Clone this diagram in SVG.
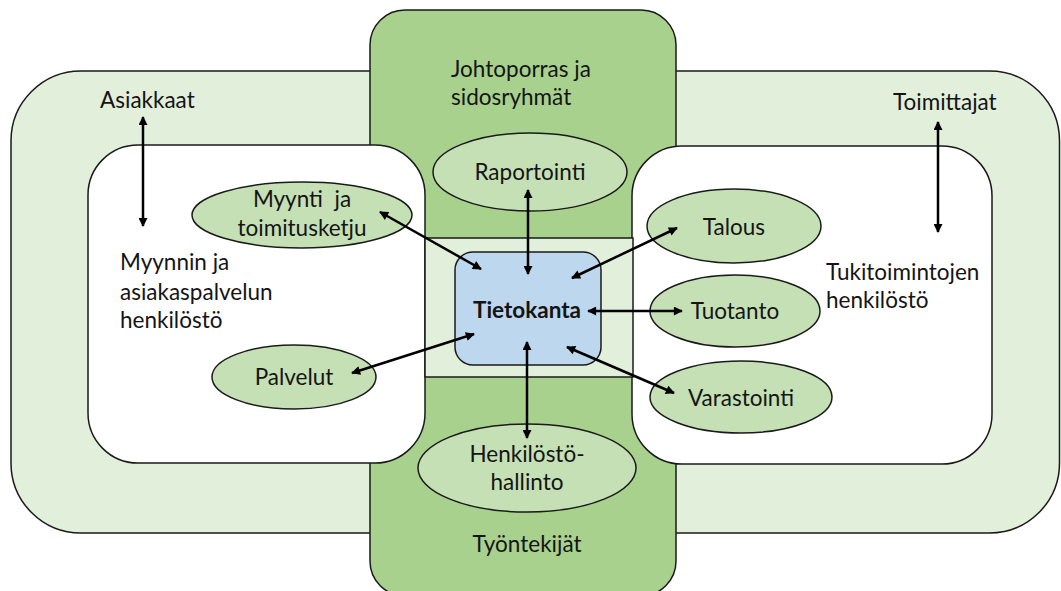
<svg xmlns="http://www.w3.org/2000/svg" width="1061" height="591" viewBox="0 0 1061 591">
  <style>
    .ln { stroke: #1a1a1a; stroke-width: 1.5; }
    .outer { fill: #e2efda; }
    .col { fill: #a9d18e; }
    .inner { fill: #ffffff; }
    .core { fill: #e2efda; }
    .db { fill: #bdd7ee; }
    .oval { fill: #c5e0b4; }
    text { font-family: Lato, "Open Sans", "Liberation Sans", sans-serif; font-size: 22.5px; fill: #141414; }
    .c { text-anchor: middle; }
    .b { font-weight: bold; font-size: 22.5px; }
    .arr { stroke: #000; stroke-width: 2.5; fill: none; marker-start: url(#ah); marker-end: url(#ah); }
  </style>
  <defs>
    <marker id="ah" viewBox="0 0 10 10" refX="9" refY="5" markerWidth="11" markerHeight="9" markerUnits="userSpaceOnUse" orient="auto-start-reverse">
      <path d="M0,0 L10,5 L0,10 z" fill="#000"/>
    </marker>
  </defs>

  <!-- background layers -->
  <g id="asiakkaat-toimittajat">
    <rect class="outer ln" x="11" y="71" width="1048.5" height="462" rx="70"/>
    <text x="100" y="108">Asiakkaat</text>
    <text x="893" y="110">Toimittajat</text>
  </g>
  <g id="johto-tyontekijat">
    <rect class="col ln" x="370" y="10" width="306" height="586" rx="35"/>
    <text x="451" y="77">Johtoporras ja</text>
    <text x="451" y="105">sidosryhmät</text>
    <text class="c" x="527" y="552">Työntekijät</text>
  </g>
  <g id="myynti-henkilosto">
    <rect class="inner ln" x="88" y="145" width="337" height="318" rx="50"/>
    <text x="120" y="270">Myynnin ja</text>
    <text x="120" y="300">asiakaspalvelun</text>
    <text x="120" y="328">henkilöstö</text>
  </g>
  <g id="tuki-henkilosto">
    <rect class="inner ln" x="632" y="146" width="360" height="318" rx="50"/>
    <text x="826" y="280">Tukitoimintojen</text>
    <text x="826" y="308">henkilöstö</text>
  </g>
  <g id="ydin">
    <rect class="core ln" x="425" y="238" width="208" height="139"/>
  </g>
  <g id="tietokanta">
    <rect class="db ln" x="455" y="252" width="146" height="113" rx="18"/>
    <text class="c b" x="527" y="318">Tietokanta</text>
  </g>

  <!-- functions -->
  <g id="raportointi">
    <ellipse class="oval ln" cx="530" cy="172" rx="97" ry="39"/>
    <text class="c" x="530" y="180">Raportointi</text>
  </g>
  <g id="myynti-toimitusketju">
    <ellipse class="oval ln" cx="302" cy="215" rx="110" ry="33"/>
    <text class="c" x="302" y="207" xml:space="preserve">Myynti  ja</text>
    <text class="c" x="302" y="236">toimitusketju</text>
  </g>
  <g id="palvelut">
    <ellipse class="oval ln" cx="294" cy="377" rx="82" ry="32"/>
    <text class="c" x="294" y="385">Palvelut</text>
  </g>
  <g id="henkilostohallinto">
    <ellipse class="oval ln" cx="527" cy="468" rx="109" ry="44"/>
    <text class="c" x="527" y="462">Henkilöstö-</text>
    <text class="c" x="527" y="490">hallinto</text>
  </g>
  <g id="talous">
    <ellipse class="oval ln" cx="734" cy="226" rx="87" ry="37"/>
    <text class="c" x="734" y="235">Talous</text>
  </g>
  <g id="tuotanto">
    <ellipse class="oval ln" cx="735" cy="311" rx="85" ry="36"/>
    <text class="c" x="735" y="319">Tuotanto</text>
  </g>
  <g id="varastointi">
    <ellipse class="oval ln" cx="741" cy="397" rx="91" ry="36"/>
    <text class="c" x="741" y="406">Varastointi</text>
  </g>

  <!-- connectors -->
  <g id="connectors">
    <line class="arr" x1="143" y1="117" x2="143" y2="226"/>
    <line class="arr" x1="938" y1="122" x2="938" y2="232"/>
    <line class="arr" x1="380" y1="212" x2="481" y2="269"/>
    <line class="arr" x1="528" y1="190" x2="528" y2="274"/>
    <line class="arr" x1="572" y1="278" x2="677" y2="228"/>
    <line class="arr" x1="588" y1="311" x2="682" y2="311"/>
    <line class="arr" x1="352" y1="373" x2="474" y2="334"/>
    <line class="arr" x1="567" y1="347" x2="674" y2="393"/>
    <line class="arr" x1="527" y1="342" x2="527" y2="438"/>
  </g>
</svg>
